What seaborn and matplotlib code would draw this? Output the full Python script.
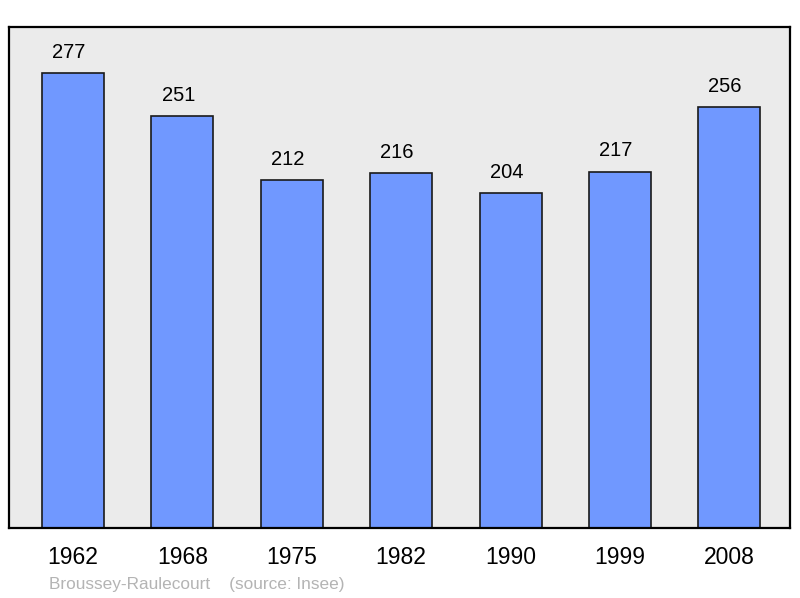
import matplotlib
matplotlib.use("Agg")
import matplotlib.pyplot as plt
import seaborn as sns
import pandas as pd

years = ["1962", "1968", "1975", "1982", "1990", "1999", "2008"]
population = [277, 251, 212, 216, 204, 217, 256]
footer = "Broussey-Raulecourt    (source: Insee)"

sns.set_theme(style="white")
plt.rcParams["font.family"] = ["Liberation Sans", "DejaVu Sans"]

df = pd.DataFrame({"year": years, "pop": population})

fig = plt.figure(figsize=(8, 5.98), dpi=100)
ax = fig.add_axes([9 / 800, 70 / 598, 781 / 800, 501 / 598])
ax.set_facecolor("#ebebeb")

sns.barplot(data=df, x="year", y="pop", color="#7098ff", saturation=1,
            width=0.567, edgecolor="#1a1a1a", linewidth=1.2, ax=ax)

for i, v in enumerate(population):
    ax.annotate(str(v), (i, v), xytext=(-3, 8), textcoords="offset points",
                ha="center", va="bottom", fontsize=14.5, color="black")

ax.set_xlim(-0.585, 6.555)
ax.set_ylim(0, 305)
ax.set_xlabel("")
ax.set_ylabel("")
ax.set_yticks([])
ax.tick_params(axis="x", length=0, pad=13, labelsize=16.5, colors="black")
for s in ax.spines.values():
    s.set_visible(True)
    s.set_color("black")
    s.set_linewidth(1.6)

fig.text(49 / 800, 1 - 584 / 598, footer, fontsize=12.4, color="#b4b4b4",
         ha="left", va="center")

fig.savefig("out.png", dpi=100, facecolor="white")
